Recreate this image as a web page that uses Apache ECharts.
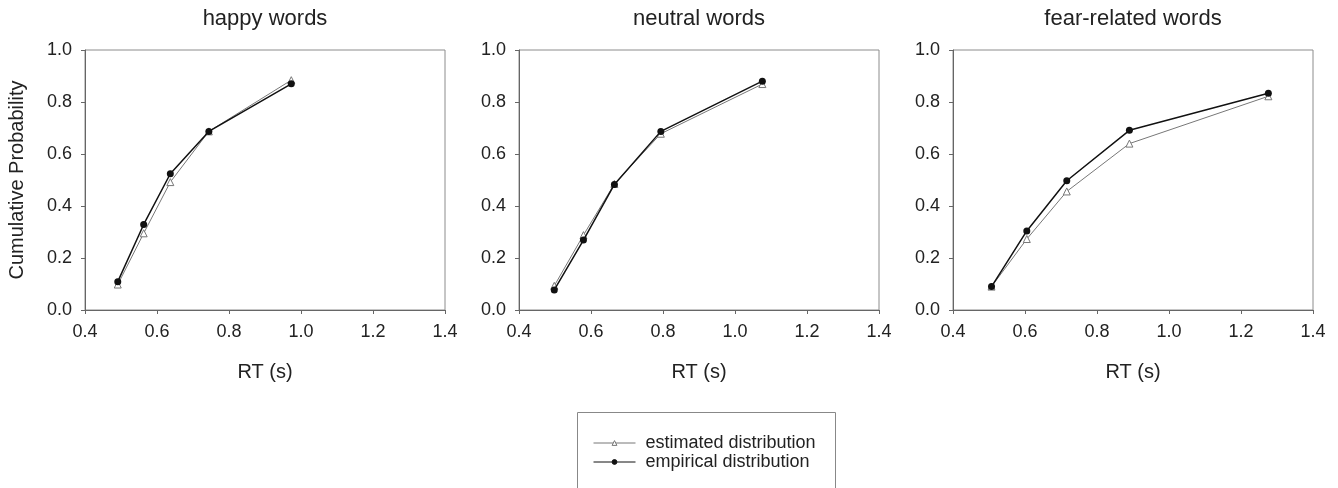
<!DOCTYPE html>
<html>
<head>
<meta charset="utf-8">
<script src="https://cdn.jsdelivr.net/npm/echarts@6/dist/echarts.min.js"></script>
<style>
  html, body { margin: 0; padding: 0; background: #fff; }
  #main { width: 1338px; height: 488px; }
</style>
</head>
<body>
<div id="main"></div>
<script>
// panels
var panelTitles = ['happy words', 'neutral words', 'fear-related words']

// happy words
var happyEstX = [0.491, 0.563, 0.637, 0.744, 0.973]
var happyEstY = [0.098, 0.295, 0.492, 0.687, 0.884]
var happyEmpX = [0.491, 0.563, 0.637, 0.744, 0.973]
var happyEmpY = [0.109, 0.329, 0.524, 0.687, 0.870]

// neutral words
var neutralEstX = [0.498, 0.579, 0.665, 0.794, 1.076]
var neutralEstY = [0.093, 0.288, 0.485, 0.678, 0.869]
var neutralEmpX = [0.498, 0.579, 0.665, 0.794, 1.076]
var neutralEmpY = [0.077, 0.269, 0.483, 0.687, 0.880]

// fear-related words
var fearEstX = [0.507, 0.605, 0.716, 0.890, 1.276]
var fearEstY = [0.090, 0.273, 0.456, 0.640, 0.822]
var fearEmpX = [0.507, 0.605, 0.716, 0.890, 1.276]
var fearEmpY = [0.090, 0.304, 0.497, 0.691, 0.834]

var estName = 'estimated distribution'
var empName = 'empirical distribution'

var estimated = [[happyEstX, happyEstY], [neutralEstX, neutralEstY], [fearEstX, fearEstY]]
var empirical = [[happyEmpX, happyEmpY], [neutralEmpX, neutralEmpY], [fearEmpX, fearEmpY]]

var chartDom = document.getElementById('main')
var myChart = echarts.init(chartDom)

var panelLeft = [85, 519, 953]
var panelWidth = 360
var font = '"Liberation Sans", Arial, sans-serif'

function pairs(xs, ys) {
    return xs.map(function (x, i) { return [x, ys[i]] })
}

function buildGrids() {
    return panelLeft.map(function (left) {
        return {
            left: left,
            top: 50,
            width: panelWidth,
            height: 260,
            show: true,
            borderColor: '#8c8c8c',
            borderWidth: 1
        }
    })
}

function buildXAxes() {
    return panelLeft.map(function (left, i) {
        return {
            type: 'value',
            gridIndex: i,
            min: 0.4,
            max: 1.4,
            interval: 0.2,
            name: 'RT (s)',
            nameLocation: 'middle',
            nameGap: 52,
            nameTextStyle: { fontFamily: font, fontSize: 20, color: '#222' },
            axisLine: { show: true, lineStyle: { color: '#666' } },
            axisTick: { show: true, length: 4, lineStyle: { color: '#666' } },
            axisLabel: {
                fontFamily: font,
                fontSize: 18,
                color: '#222',
                margin: 13,
                formatter: function (v) { return v.toFixed(1) }
            },
            splitLine: { show: false }
        }
    })
}

function buildYAxes() {
    return panelLeft.map(function (left, i) {
        return {
            type: 'value',
            gridIndex: i,
            min: 0,
            max: 1,
            interval: 0.2,
            name: i === 0 ? 'Cumulative Probability' : '',
            nameLocation: 'middle',
            nameGap: 58,
            nameTextStyle: { fontFamily: font, fontSize: 20, color: '#222' },
            axisLine: { show: true, lineStyle: { color: '#666' } },
            axisTick: { show: true, length: 4, lineStyle: { color: '#666' } },
            axisLabel: {
                fontFamily: font,
                fontSize: 18,
                color: '#222',
                margin: 13,
                formatter: function (v) { return v.toFixed(1) }
            },
            splitLine: { show: false }
        }
    })
}

function buildSeries() {
    var series = []
    for (var i = 0; i < 3; i++) {
        series.push({
            type: 'line',
            name: estName,
            xAxisIndex: i,
            yAxisIndex: i,
            data: pairs(estimated[i][0], estimated[i][1]),
            symbol: 'triangle',
            symbolSize: 7,
            itemStyle: { color: '#fff', borderColor: '#777', borderWidth: 1 },
            lineStyle: { color: '#777', width: 1 },
            z: 2
        })
        series.push({
            type: 'line',
            name: empName,
            xAxisIndex: i,
            yAxisIndex: i,
            data: pairs(empirical[i][0], empirical[i][1]),
            symbol: 'circle',
            symbolSize: 7,
            itemStyle: { color: '#111', borderColor: '#111', borderWidth: 0 },
            lineStyle: { color: '#111', width: 1.5 },
            z: 3
        })
    }
    return series
}

var option = {
    animation: false,
    title: panelTitles.map(function (t, i) {
        return {
            text: t,
            left: panelLeft[i] + panelWidth / 2,
            top: 8,
            padding: 0,
            textAlign: 'center',
            textStyle: { fontFamily: font, fontSize: 22, fontWeight: 'normal', color: '#222' }
        }
    }),
    grid: buildGrids(),
    xAxis: buildXAxes(),
    yAxis: buildYAxes(),
    legend: {
        orient: 'vertical',
        left: 593,
        top: 434,
        padding: 0,
        itemWidth: 42,
        itemHeight: 6,
        itemGap: 1,
        data: [estName, empName],
        itemStyle: { borderWidth: 1 },
        lineStyle: { width: 1 },
        textStyle: { fontFamily: font, fontSize: 18, color: '#222', padding: [0, 0, 0, 5] }
    },
    graphic: [
        {
            type: 'rect',
            shape: { x: 577.5, y: 412.5, width: 258, height: 80 },
            style: { fill: 'none', stroke: '#888', lineWidth: 1 },
            z: -1
        }
    ],
    series: buildSeries()
}

myChart.setOption(option)
</script>
</body>
</html>
